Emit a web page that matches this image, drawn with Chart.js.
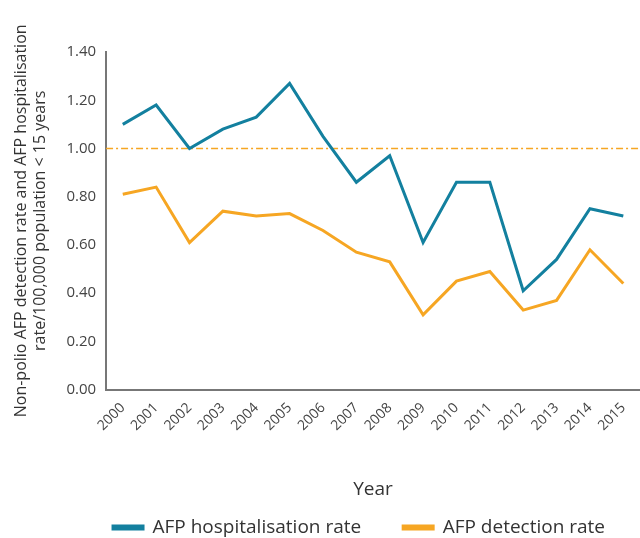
<!DOCTYPE html>
<html>
<head>
<meta charset="utf-8">
<script src="https://cdn.jsdelivr.net/npm/chart.js@4/dist/chart.umd.min.js"></script>
<style>
  html, body { margin: 0; padding: 0; background: #fff; overflow: hidden; }
  #wrap { width: 640px; height: 538px; }
</style>
</head>
<body>
<div id="wrap"><canvas id="c" width="640" height="538"></canvas></div>
<script>
const years = ['2000','2001','2002','2003','2004','2005','2006','2007','2008','2009','2010','2011','2012','2013','2014','2015'];
const hospitalisationRate = [1.10, 1.18, 1.00, 1.08, 1.13, 1.27, 1.05, 0.86, 0.97, 0.61, 0.86, 0.86, 0.41, 0.54, 0.75, 0.72];
const detectionRate = [0.81, 0.84, 0.61, 0.74, 0.72, 0.73, 0.66, 0.57, 0.53, 0.31, 0.45, 0.49, 0.33, 0.37, 0.58, 0.44];
const targetRate = 1.0;
const yTicks = [0, 0.2, 0.4, 0.6, 0.8, 1.0, 1.2, 1.4];

const blue = '#13809f';
const orange = '#f6a623';
const fontFam = '"Open Sans", "DejaVu Sans", sans-serif';

const targetLine = {
  id: 'targetLine',
  beforeDatasetsDraw(chart) {
    const { ctx, chartArea, scales } = chart;
    const y = Math.round(scales.y.getPixelForValue(targetRate)) + 0.5;
    ctx.save();
    ctx.strokeStyle = orange;
    ctx.lineWidth = 1.3;
    ctx.setLineDash([7, 3, 2, 3]);
    ctx.beginPath();
    ctx.moveTo(chartArea.left, y);
    ctx.lineTo(chartArea.right, y);
    ctx.stroke();
    ctx.restore();
  }
};

// centre the legend row under the plot area rather than the whole canvas
const legendShift = {
  id: 'legendShift',
  afterLayout(chart) {
    const lg = chart.legend;
    if (lg) {
      const d = ((chart.chartArea.left + chart.chartArea.right) - (lg.left + lg.right)) / 2 - 14;
      lg.left += d;
      lg.right += d;
    }
  }
};

new Chart(document.getElementById('c'), {
  type: 'line',
  data: {
    labels: years,
    datasets: [
      { label: 'AFP hospitalisation rate', data: hospitalisationRate, borderColor: blue, backgroundColor: blue, borderWidth: 3, pointRadius: 0, tension: 0 },
      { label: 'AFP detection rate', data: detectionRate, borderColor: orange, backgroundColor: orange, borderWidth: 3, pointRadius: 0, tension: 0 }
    ]
  },
  options: {
    responsive: false,
    animation: false,
    layout: { padding: { left: 12, right: 0, top: 52, bottom: -9 } },
    plugins: {
      legend: {
        position: 'bottom',
        labels: {
          boxWidth: 30, boxHeight: 3,
          color: '#333',
          font: { family: fontFam, size: 19 },
          padding: 42
        }
      },
      tooltip: { enabled: false }
    },
    scales: {
      x: {
        offset: true,
        afterFit(axis) { axis.paddingRight = 0; },
        grid: { display: false, drawTicks: false },
        border: { color: '#777', width: 2 },
        ticks: { color: '#444', font: { family: fontFam, size: 14 }, maxRotation: 45, minRotation: 45, padding: 10 },
        title: { display: true, text: 'Year', color: '#333', font: { family: fontFam, size: 19 }, padding: { top: 34, bottom: -25 } }
      },
      y: {
        min: 0, max: 1.4,
        afterBuildTicks(axis) { axis.ticks = yTicks.map(v => ({ value: v })); },
        grid: { display: false, drawTicks: false },
        border: { color: '#777', width: 2 },
        ticks: { color: '#444', font: { family: fontFam, size: 15 }, padding: 10, callback: v => Number(v).toFixed(2) },
        title: { display: true, text: ['Non-polio AFP detection rate and AFP hospitalisation', 'rate/100,000 population < 15 years'], color: '#333', font: { family: fontFam, size: 16 }, padding: { top: 0, bottom: 6 } }
      }
    }
  },
  plugins: [targetLine, legendShift]
});
</script>
</body>
</html>
